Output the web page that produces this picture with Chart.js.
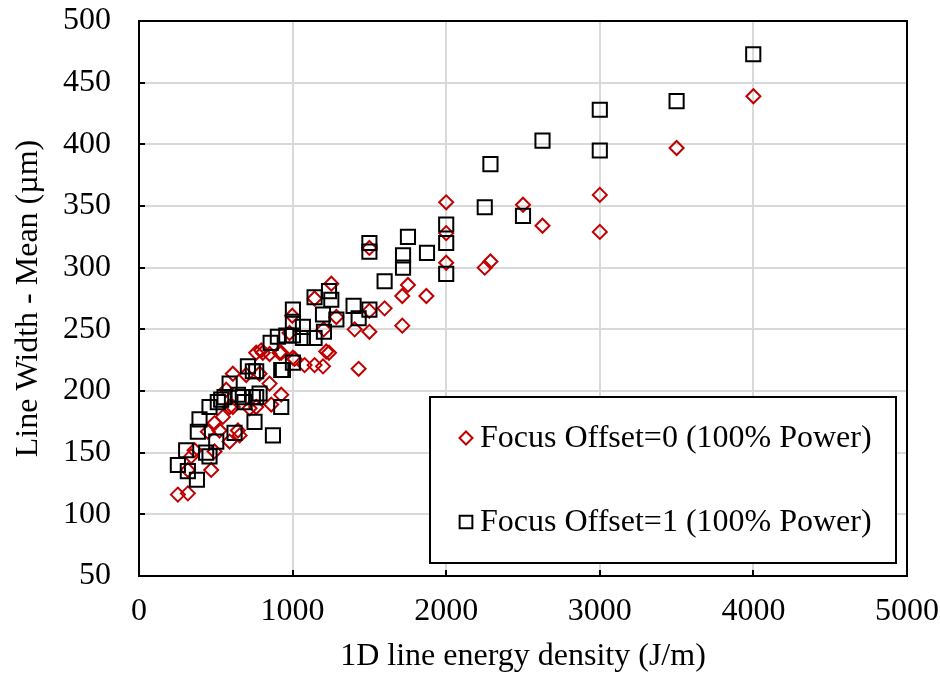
<!DOCTYPE html>
<html>
<head>
<meta charset="utf-8">
<script src="https://cdn.jsdelivr.net/npm/chart.js@4"></script>
<style>
  html, body { margin: 0; padding: 0; background: #fff; }
  #wrap { width: 940px; height: 676px; }
</style>
</head>
<body>
<div id="wrap"><canvas id="chart" width="940" height="676"></canvas></div>
<script>
// Focus Offset=0 (red diamonds)
const offset0X = [4000, 3500, 3000, 3000, 2500, 2627, 2000, 2000, 2000, 2288, 2251, 1751, 1714, 1871, 1714, 1599,
	1500, 1500, 1500, 1404, 1430, 1252, 1143, 1285, 1237, 1202, 998, 1078, 1143, 1198, 1002, 926, 980, 796, 611, 698,
	850, 926, 861, 763, 568, 590, 546, 492, 448, 655, 590, 362, 492, 340, 470, 318, 253, 318,
	806, 763, 850, 720, 785, 644, 524, 611, 1013, 1219, 915];
const offset0Y = [439, 397, 359, 329, 351, 334, 353, 328, 304, 305, 300, 286, 277, 277, 253, 267,
	316, 265, 248, 250, 218, 287, 275, 260, 231, 250, 261, 221, 221, 220, 227, 231, 247, 233, 214, 213,
	206, 197, 189, 187, 201, 187, 179, 174, 167, 164, 159, 152, 151, 147, 136, 136, 116, 117,
	231, 231, 230, 186, 214, 168, 168, 187, 226, 232, 231];

// Focus Offset=1 (black squares)
const offset1X = [3999, 3500, 3000, 3000, 2627, 2288, 2251, 2500, 2000, 2000, 2000, 1751, 1875, 1719, 1719, 1599,
	1500, 1500, 1500, 1397, 1430, 1237, 1252, 1143, 1285, 1198, 1204, 1002, 1002, 1002, 1002, 937, 1067, 1067, 1143,
	959, 904, 857, 709, 763, 926, 590, 644, 687, 741, 785, 926, 459, 535, 752, 872, 394, 383, 622, 503, 307, 437,
	253, 318, 377, 459, 741, 557, 676, 763, 513];
const offset1Y = [473, 435, 428, 395, 403, 384, 349, 342, 335, 320, 295, 325, 312, 310, 300, 289,
	320, 313, 266, 269, 259, 281, 274, 276, 258, 262, 248, 266, 256, 245, 223, 217, 252, 243, 243,
	245, 244, 239, 220, 216, 217, 206, 197, 191, 195, 198, 187, 187, 193, 175, 164, 177, 167, 166, 159, 152, 150,
	140, 135, 128, 147, 216, 195, 195, 195, 191];

const xTicks = [0, 1000, 2000, 3000, 4000, 5000];
const yTicks = [50, 100, 150, 200, 250, 300, 350, 400, 450, 500];

const serif = "'Liberation Serif', 'Times New Roman', serif";
const redColor = '#c00000';
const fontSize = 32;

function toPoints(xs, ys) {
	return xs.map((x, i) => ({x: x, y: ys[i]}));
}

// frame, inward ticks and the boxed legend inside the plot
const framePlugin = {
	id: 'frame',
	afterDraw(chart) {
		const ctx = chart.ctx;
		const area = chart.chartArea;
		const xs = chart.scales.x;
		const ys = chart.scales.y;
		ctx.save();
		ctx.strokeStyle = '#000';
		ctx.lineWidth = 2;
		ctx.strokeRect(area.left, area.top, area.right - area.left, area.bottom - area.top);
		ctx.beginPath();
		for (const v of xTicks) {
			const px = Math.round(xs.getPixelForValue(v));
			ctx.moveTo(px, area.bottom);
			ctx.lineTo(px, area.bottom - 6);
		}
		for (const v of yTicks) {
			const py = Math.round(ys.getPixelForValue(v));
			ctx.moveTo(area.left, py);
			ctx.lineTo(area.left + 6, py);
		}
		ctx.stroke();

		// legend box
		const bx = 430, by = 397, bw = 466, bh = 166;
		ctx.fillStyle = '#fff';
		ctx.fillRect(bx, by, bw, bh);
		ctx.strokeRect(bx, by, bw, bh);
		ctx.font = fontSize + 'px ' + serif;
		ctx.textBaseline = 'middle';
		ctx.textAlign = 'left';
		const rows = [438, 522];
		chart.data.datasets.forEach((ds, i) => {
			const cy = rows[i];
			ctx.save();
			ctx.strokeStyle = ds.pointBorderColor;
			ctx.fillStyle = 'rgba(0,0,0,0)';
			ctx.lineWidth = 2;
			Chart.helpers.drawPoint(ctx, {pointStyle: ds.pointStyle, radius: i === 0 ? 6.5 : 9, rotation: 0, borderWidth: 2}, 466, cy);
			ctx.restore();
			ctx.fillStyle = '#000';
			ctx.fillText(ds.label, 480, cy + 1);
		});
		ctx.restore();
	}
};

new Chart(document.getElementById('chart'), {
	type: 'scatter',
	data: {
		datasets: [{
			label: 'Focus Offset=0 (100% Power)',
			data: toPoints(offset0X, offset0Y),
			pointStyle: 'rectRot',
			pointRadius: 7,
			pointBorderWidth: 2,
			pointBorderColor: redColor,
			pointBackgroundColor: 'rgba(0,0,0,0)',
			order: 2
		}, {
			label: 'Focus Offset=1 (100% Power)',
			data: toPoints(offset1X, offset1Y),
			pointStyle: 'rect',
			pointRadius: 10,
			pointBorderWidth: 2,
			pointBorderColor: '#000',
			pointBackgroundColor: 'rgba(0,0,0,0)',
			order: 1
		}]
	},
	options: {
		responsive: false,
		animation: false,
		devicePixelRatio: 1,
		layout: {padding: {top: 21, right: 33, left: 0, bottom: 0}},
		plugins: {
			legend: {display: false},
			tooltip: {enabled: false}
		},
		scales: {
			x: {
				type: 'linear',
				min: 0,
				max: 5000,
				afterFit: (scale) => {
					scale.height = 100;
					scale.paddingLeft = 0;
					scale.paddingRight = 0;
				},
				afterBuildTicks: (scale) => { scale.ticks = xTicks.map(v => ({value: v})); },
				grid: {color: '#d9d9d9', lineWidth: 2, drawTicks: false},
				border: {color: '#000', width: 2},
				ticks: {color: '#000', padding: 16, font: {family: serif, size: fontSize},
					callback: (v) => String(v)},
				title: {display: true, text: '1D line energy density (J/m)', color: '#000',
					font: {family: serif, size: fontSize}, padding: {top: 0, bottom: 0}}
			},
			y: {
				type: 'linear',
				min: 50,
				max: 500,
				afterFit: (scale) => {
					scale.width = 139;
					scale.paddingTop = 0;
					scale.paddingBottom = 0;
				},
				afterBuildTicks: (scale) => { scale.ticks = yTicks.map(v => ({value: v})); },
				grid: {color: '#d9d9d9', lineWidth: 2, drawTicks: false},
				border: {color: '#000', width: 2},
				ticks: {color: '#000', padding: 28, font: {family: serif, size: fontSize},
					callback: (v) => String(v)},
				title: {display: true, text: 'Line Width - Mean (µm)', color: '#000',
					font: {family: serif, size: fontSize}, padding: {top: 9, bottom: 0}}
			}
		}
	},
	plugins: [framePlugin]
});
</script>
</body>
</html>
